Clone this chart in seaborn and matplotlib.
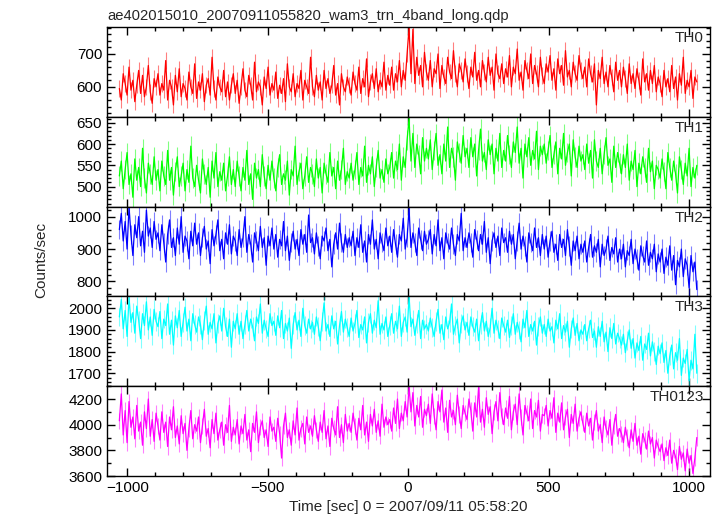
import numpy as np
import pandas as pd
import seaborn as sns
import matplotlib
matplotlib.use("Agg")
import matplotlib.pyplot as plt
from matplotlib.ticker import MultipleLocator

# light curve values (~7 s steps, -1028 .. 1028 s)
th0 = [
    595, 560, 640, 610, 575, 660, 590, 620, 555, 605, 650, 580, 635, 570, 600, 665, 585, 550, 625, 600,
    640, 575, 610, 590, 680, 560, 620, 600, 545, 635, 585, 655, 570, 610, 595, 560, 645, 600, 580, 670,
    565, 615, 590, 640, 555, 605, 625, 575, 690, 595, 560, 630, 600, 585, 650, 570, 615, 560, 605, 640,
    580, 620, 550, 600, 655, 590, 570, 635, 605, 560, 675, 585, 615, 600, 545, 630, 595, 660, 575, 610,
    590, 645, 565, 605, 580, 625, 555, 670, 600, 585, 640, 570, 610, 595, 650, 560, 620, 600, 580, 690,
    600, 570, 635, 590, 615, 560, 650, 595, 625, 580, 605, 665, 575, 610, 545, 640, 600, 585, 630, 605,
    575, 645, 610, 590, 660, 580, 625, 600, 685, 570, 615, 640, 595, 655, 585, 620, 600, 675, 590, 635,
    605, 660, 590, 640, 615, 680, 600, 650, 620, 700, 780, 640, 775, 610, 690, 635, 665, 600, 705, 645,
    620, 680, 600, 655, 640, 700, 595, 665, 630, 610, 690, 645, 625, 710, 640, 600, 670, 650, 615, 685,
    640, 595, 660, 630, 705, 620, 650, 600, 680, 645, 615, 690, 635, 660, 590, 700, 640, 625, 670, 610,
    655, 630, 695, 600, 660, 640, 715, 620, 645, 590, 680, 650, 625, 700, 610, 665, 640, 600, 690, 635,
    610, 670, 645, 695, 620, 655, 590, 685, 640, 665, 605, 710, 630, 650, 600, 675, 640, 620, 695, 650,
    625, 660, 600, 685, 640, 615, 670, 545, 650, 625, 690, 610, 645, 600, 665, 630, 585, 675, 620, 650,
    600, 660, 625, 580, 670, 610, 640, 595, 655, 620, 575, 685, 615, 640, 590, 650, 610, 665, 585, 630,
    610, 570, 650, 600, 625, 585, 665, 595, 630, 560, 640, 605, 690, 580, 620, 600, 650, 565, 630, 615,
]
th1 = [
    525, 560, 495, 540, 580, 505, 530, 475, 565, 515, 545, 500, 590, 520, 485, 555, 530, 505, 570, 515,
    540, 490, 560, 525, 505, 585, 515, 545, 480, 535, 570, 500, 525, 555, 490, 540, 510, 595, 520, 500,
    550, 515, 485, 565, 530, 505, 545, 475, 560, 520, 580, 500, 535, 515, 555, 490, 525, 570, 505, 540,
    500, 560, 525, 490, 545, 515, 585, 505, 530, 470, 555, 520, 540, 500, 575, 525, 495, 550, 515, 560,
    520, 490, 545, 575, 505, 530, 515, 560, 480, 540, 525, 595, 505, 535, 555, 495, 525, 570, 510, 545,
    530, 500, 565, 520, 545, 485, 555, 530, 510, 580, 525, 545, 495, 560, 515, 540, 590, 505, 535, 520,
    555, 515, 540, 580, 505, 545, 525, 595, 510, 550, 530, 570, 500, 545, 585, 520, 540, 510, 565, 530,
    545, 580, 520, 560, 540, 600, 515, 570, 545, 610, 660, 560, 625, 545, 600, 575, 530, 615, 560, 590,
    565, 610, 540, 585, 625, 550, 575, 530, 600, 560, 640, 545, 590, 570, 515, 605, 580, 555, 620, 570,
    590, 545, 615, 570, 600, 525, 585, 635, 560, 580, 540, 610, 575, 600, 530, 590, 560, 625, 545, 585,
    560, 620, 575, 545, 605, 580, 640, 555, 590, 520, 600, 570, 615, 550, 585, 565, 630, 540, 595, 575,
    600, 555, 585, 620, 545, 575, 605, 530, 590, 565, 625, 550, 580, 600, 525, 610, 570, 545, 595, 560,
    575, 540, 600, 555, 585, 520, 610, 560, 545, 590, 530, 575, 615, 550, 565, 510, 595, 545, 580, 555,
    530, 575, 545, 600, 515, 560, 540, 585, 500, 555, 530, 570, 545, 510, 590, 535, 560, 495, 550, 540,
    520, 565, 535, 495, 580, 545, 515, 560, 530, 485, 570, 540, 505, 555, 525, 590, 500, 545, 520, 550,
]
th2 = [
    960, 1010, 925, 985, 900, 1030, 945, 880, 975, 935, 1000, 910, 955, 890, 1020, 940, 965, 905, 985, 930,
    950, 895, 975, 920, 860, 945, 990, 905, 935, 880, 965, 915, 1000, 890, 940, 925, 870, 955, 910, 980,
    915, 950, 880, 935, 970, 900, 925, 855, 960, 910, 945, 990, 895, 930, 870, 950, 915, 975, 885, 940,
    925, 880, 960, 905, 935, 1000, 890, 945, 915, 860, 950, 925, 895, 970, 905, 935, 850, 940, 910, 965,
    900, 945, 875, 930, 910, 985, 895, 940, 865, 920, 955, 900, 930, 880, 960, 915, 945, 890, 1005, 920,
    935, 885, 950, 910, 870, 940, 925, 965, 895, 930, 845, 915, 950, 900, 980, 920, 890, 945, 905, 935,
    910, 955, 880, 935, 905, 975, 890, 925, 860, 945, 915, 990, 900, 930, 870, 950, 920, 895, 965, 910,
    940, 890, 960, 915, 875, 945, 925, 995, 900, 935, 1025, 905, 950, 920, 880, 965, 930, 895, 955, 915,
    930, 960, 885, 945, 910, 990, 895, 935, 870, 950, 920, 900, 965, 915, 880, 945, 925, 1010, 895, 935,
    905, 950, 920, 875, 960, 930, 895, 945, 915, 985, 890, 935, 855, 925, 950, 905, 940, 880, 965, 920,
    935, 890, 955, 915, 945, 870, 925, 980, 900, 940, 910, 860, 950, 920, 895, 965, 905, 935, 880, 945,
    900, 940, 875, 925, 955, 890, 915, 865, 945, 905, 930, 880, 960, 910, 850, 925, 895, 940, 870, 915,
    890, 925, 860, 905, 945, 875, 910, 890, 930, 845, 915, 880, 900, 940, 865, 905, 885, 935, 860, 900,
    870, 915, 845, 895, 880, 930, 855, 900, 870, 835, 910, 880, 860, 925, 850, 890, 870, 915, 830, 885,
    860, 900, 825, 875, 850, 910, 835, 880, 790, 865, 845, 900, 815, 870, 850, 780, 880, 830, 860, 775,
]
th3 = [
    1960, 2040, 1905, 1990, 1870, 2050, 1935, 1980, 1885, 2010, 1945, 1860, 1975, 1920, 2030, 1900, 1960, 1875, 1995, 1940,
    1915, 1985, 1860, 1950, 1920, 2020, 1880, 1945, 1830, 1965, 1910, 1990, 1870, 1935, 2005, 1895, 1950, 1850, 1975, 1925,
    1890, 1960, 1925, 1855, 1945, 2010, 1880, 1935, 1905, 1975, 1840, 1930, 1965, 1895, 2000, 1915, 1870, 1950, 1820, 1940,
    1905, 1975, 1880, 1940, 1860, 1925, 1990, 1895, 1950, 1915, 1850, 1960, 1930, 2020, 1885, 1945, 1905, 1870, 1975, 1920,
    1940, 1875, 1965, 1910, 1990, 1860, 1930, 1895, 1955, 1815, 1925, 1980, 1900, 1945, 1870, 2000, 1920, 1885, 1950, 1905,
    1935, 1880, 1960, 1915, 1850, 1940, 2025, 1895, 1925, 1870, 1965, 1905, 1940, 1835, 1920, 1985, 1890, 1950, 1910, 1870,
    1955, 1895, 1930, 1990, 1865, 1925, 1900, 1960, 1840, 1935, 1975, 1885, 1945, 1910, 2035, 1880, 1930, 1900, 1960, 1870,
    1920, 1975, 1885, 1940, 1905, 2010, 1870, 1935, 1960, 1890, 2055, 1915, 1950, 1875, 1930, 1990, 1860, 1945, 1905, 1925,
    1895, 1955, 1910, 1870, 1940, 1995, 1885, 1925, 1855, 1960, 1905, 1935, 2020, 1880, 1920, 1950, 1840, 1930, 1965, 1900,
    1935, 1875, 1960, 1915, 1890, 1950, 1850, 1925, 1980, 1895, 1940, 1870, 1910, 2000, 1885, 1945, 1905, 1860, 1955, 1920,
    1890, 1945, 1865, 1920, 1975, 1880, 1935, 1900, 1845, 1950, 1910, 1990, 1870, 1925, 1895, 1940, 1830, 1915, 1960, 1885,
    1925, 1870, 1950, 1895, 1915, 1840, 1945, 1905, 1975, 1860, 1920, 1890, 1940, 1820, 1905, 1955, 1875, 1930, 1850, 1900,
    1880, 1925, 1850, 1905, 1945, 1865, 1895, 1820, 1915, 1870, 1940, 1845, 1890, 1800, 1910, 1860, 1930, 1835, 1885, 1860,
    1830, 1880, 1795, 1850, 1900, 1815, 1860, 1770, 1840, 1805, 1870, 1760, 1835, 1810, 1885, 1780, 1845, 1800, 1740, 1825,
    1790, 1840, 1750, 1805, 1700, 1780, 1830, 1720, 1795, 1760, 1860, 1690, 1770, 1745, 1810, 1665, 1760, 1720, 1880, 1700,
]
th0123 = [
    4030, 4240, 3920, 4110, 3860, 4180, 3980, 4060, 3890, 4150, 3950, 4020, 3840, 4100, 3970, 4200, 3910, 4040, 3870, 4090,
    3990, 3880, 4100, 3940, 4020, 3830, 4060, 3960, 4140, 3900, 3990, 3850, 4070, 3930, 4010, 3800, 3970, 4110, 3890, 4000,
    3950, 4060, 3860, 3990, 4120, 3910, 3970, 3820, 4040, 3930, 4090, 3880, 3960, 4020, 3840, 4000, 3940, 4150, 3870, 3980,
    3920, 4040, 3850, 3990, 3930, 4080, 3880, 3960, 3790, 4010, 3940, 4100, 3860, 3980, 4030, 3900, 3960, 3830, 4060, 3950,
    3980, 3870, 4050, 3930, 3740, 3990, 4090, 3900, 3960, 3840, 4030, 3920, 4130, 3880, 3970, 4010, 3850, 4060, 3940, 3990,
    3910, 4070, 3960, 3870, 4020, 3940, 4110, 3890, 3990, 3830, 4050, 3970, 3920, 4140, 3900, 4000, 3860, 4080, 3950, 4010,
    3940, 4090, 3990, 3880, 4050, 3960, 4150, 3920, 4020, 3870, 4080, 3990, 4120, 3940, 4030, 3910, 4160, 3980, 4060, 4000,
    4040, 3950, 4130, 4010, 4200, 3970, 4090, 4030, 4180, 4060, 4300, 4100, 4250, 3990, 4150, 4060, 4220, 3980, 4120, 4070,
    4160, 4010, 4240, 4070, 3960, 4180, 4100, 4270, 4020, 4130, 3940, 4190, 4060, 4110, 4000, 4230, 4080, 3970, 4150, 4090,
    4040, 4200, 4110, 3950, 4170, 4060, 4290, 4020, 4120, 3980, 4210, 4080, 4140, 3930, 4100, 4180, 4030, 4250, 4070, 4000,
    4130, 4050, 4220, 3960, 4100, 4160, 4000, 4240, 4060, 3920, 4150, 4090, 4030, 4200, 3970, 4110, 4060, 4190, 3950, 4080,
    4070, 4150, 3990, 4110, 4050, 4210, 3940, 4090, 4020, 4170, 3960, 4060, 4120, 3900, 4080, 4010, 4160, 3950, 4050, 4100,
    4010, 3940, 4090, 3990, 4050, 3880, 4020, 4110, 3950, 4000, 3860, 4060, 3970, 3920, 4040, 3840, 3990, 4080, 3910, 3970,
    3930, 3860, 3980, 3900, 3820, 3960, 3870, 4010, 3840, 3910, 3770, 3930, 3880, 3810, 3950, 3850, 3900, 3740, 3880, 3830,
    3790, 3850, 3720, 3820, 3760, 3880, 3700, 3800, 3750, 3650, 3830, 3730, 3780, 3640, 3810, 3700, 3760, 3620, 3740, 3900,
]

bands = ['TH0', 'TH1', 'TH2', 'TH3', 'TH0123']
series = [th0, th1, th2, th3, th0123]
errors = [25, 23, 30, 43, 63]
colors = ['#ff0000', '#00ff00', '#0000ff', '#00ffff', '#ff00ff']
ylims = [(509, 782), (453, 664), (754, 1031), (1640, 2055), (3600, 4300)]
ymajor = [100, 50, 100, 100, 200]
yminor = [20, 10, 20, 20, 100]

t_start, t_stop = -1028, 1028
title = 'ae402015010_20070911055820_wam3_trn_4band_long.qdp'

sns.set_style('ticks')
plt.rcParams['font.family'] = ['Liberation Sans', 'DejaVu Sans']
plt.rcParams['font.size'] = 10.5

fig, axes = plt.subplots(5, 1, figsize=(7.22, 5.16), dpi=100, sharex=True)
fig.subplots_adjust(left=107/722, right=710/722, top=1-27/516, bottom=1-476/516, hspace=0)

for ax, name, vals, err, c, yl, mj, mn in zip(axes, bands, series, errors, colors,
                                              ylims, ymajor, yminor):
    df = pd.DataFrame({'time': np.linspace(t_start, t_stop, len(vals)), 'rate': vals})
    ax.errorbar(df['time'], df['rate'], yerr=err, fmt='none', ecolor=c,
                alpha=0.5, elinewidth=0.8)
    sns.lineplot(data=df, x='time', y='rate', ax=ax, color=c, lw=0.9,
                 estimator=None, sort=False)
    ax.set_xlim(-1072, 1075)
    ax.set_ylim(*yl)
    ax.yaxis.set_major_locator(MultipleLocator(mj))
    ax.yaxis.set_minor_locator(MultipleLocator(mn))
    ax.xaxis.set_major_locator(MultipleLocator(500))
    ax.xaxis.set_minor_locator(MultipleLocator(100))
    ax.tick_params(which='both', direction='in', top=True, right=True, width=1,
                   labelsize=11, colors='black')
    ax.tick_params(which='major', length=6)
    ax.tick_params(which='minor', length=3)
    for s in ax.spines.values():
        s.set_linewidth(1)
        s.set_color('black')
    ax.set_xlabel('')
    ax.set_ylabel('')
    ax.text(0.99, 0.955, name, transform=ax.transAxes, ha='right', va='top', fontsize=11)

axes[-1].set_xlabel('Time [sec] 0 = 2007/09/11 05:58:20', fontsize=11, labelpad=4)
fig.text(41/722, 1-260/516, 'Counts/sec', rotation=90, ha='center', va='center', fontsize=11)
fig.text(107/722, 1-20/516, title, ha='left', va='baseline', fontsize=10.6)

fig.savefig('out.png', dpi=100)
